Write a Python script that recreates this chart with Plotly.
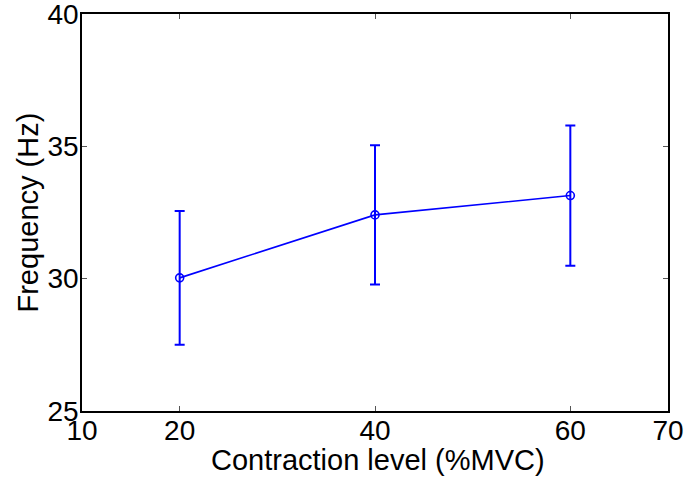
import plotly.graph_objects as go

levels = [20, 40, 60]
freq = [30.03, 32.41, 33.14]
err = [2.53, 2.63, 2.65]

x_ticks = [10, 20, 40, 60, 70]
y_ticks = [25, 30, 35, 40]

x_title = "Contraction level (%MVC)"
y_title = "Frequency (Hz)"

fig = go.Figure(go.Scatter(
    x=levels, y=freq, mode="lines+markers",
    line=dict(color="#0000ff", width=1.6),
    marker=dict(symbol="circle-open", size=8, color="#0000ff", line=dict(width=1.6)),
    error_y=dict(type="data", array=err, visible=True, color="#0000ff", thickness=2, width=5),
))

FONT = "Liberation Sans, Arial, sans-serif"
fig.update_layout(
    width=688, height=477,
    margin=dict(l=82, r=20, t=14, b=66),
    paper_bgcolor="white", plot_bgcolor="white",
    showlegend=False,
    font=dict(family=FONT, size=28, color="black"),
)
common = dict(
    ticks="inside", ticklen=5, tickcolor="#555", tickwidth=1,
    showline=True, linecolor="black", linewidth=1.5,
    mirror="ticks", showgrid=False, zeroline=False, automargin=False,
    ticklabeloverflow="allow",
    tickfont=dict(family=FONT, size=28, color="black"),
)
fig.update_xaxes(range=[10, 70], tickvals=x_ticks, ticktext=[str(v) for v in x_ticks],
                 ticklabelstandoff=-6, **common)
fig.update_yaxes(range=[25, 40], tickvals=y_ticks, ticktext=[str(v) for v in y_ticks],
                 ticklabelstandoff=-4, **common)

fig.add_annotation(text=x_title, xref="paper", yref="paper", x=0.505, y=0,
                   yshift=-49, xanchor="center", yanchor="middle", showarrow=False,
                   font=dict(family=FONT, size=29, color="black"))
fig.add_annotation(text=y_title, xref="paper", yref="paper", x=0, y=0.5,
                   xshift=-55, xanchor="center", yanchor="middle", textangle=-90, showarrow=False,
                   font=dict(family=FONT, size=29, color="black"))

fig.write_html("out.html", config={"displayModeBar": False},
               post_script="document.body.style.margin='0';")
